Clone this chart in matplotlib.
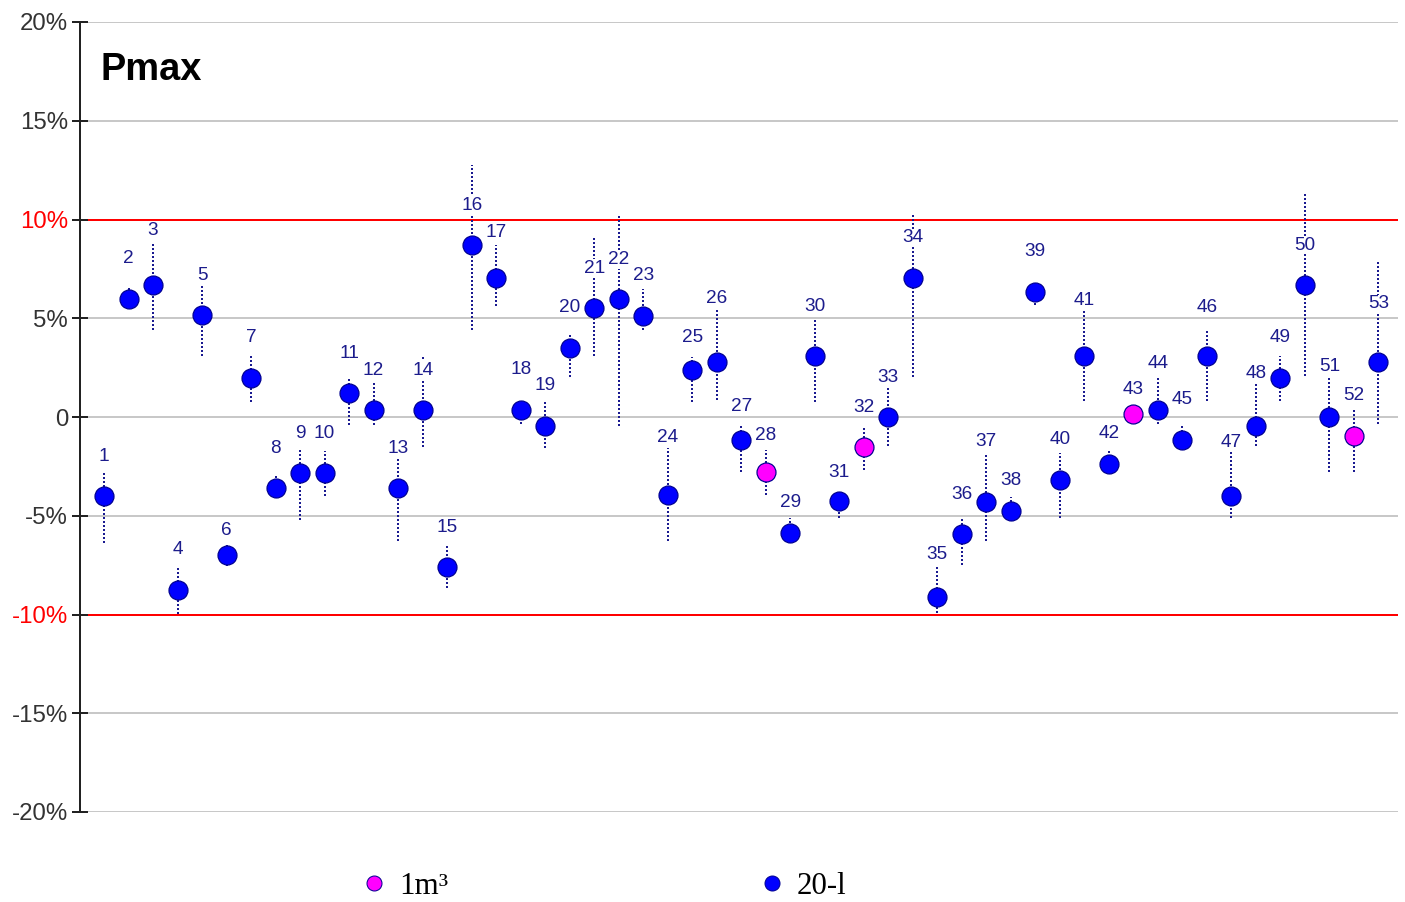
import matplotlib
matplotlib.use("Agg")
import matplotlib.pyplot as plt
from matplotlib.lines import Line2D

# data
nums = list(range(1, 54))
pmax = [-4.0, 6.0, 6.7, -8.75, 5.15, -7.0, 2.0, -3.6, -2.85, -2.85,
        1.2, 0.35, -3.6, 0.35, -7.6, 8.7, 7.05, 0.37, -0.44, 3.5,
        5.5, 5.95, 5.12, -3.97, 2.39, 2.81, -1.14, -2.78, -5.89, 3.1,
        -4.26, -1.53, 0.0, 7.04, -9.1, -5.94, -4.31, -4.74, 6.34, -3.18,
        3.11, -2.39, 0.15, 0.37, -1.15, 3.11, -3.99, -0.44, 1.98, 6.67,
        -0.02, -0.95, 2.79]
err_lo = [-6.4, 5.6, 4.4, -9.95, 3.1, -7.55, 0.77, -4.1, -5.2, -4.0,
          -0.4, -0.4, -6.3, -1.5, -8.65, 4.4, 5.6, -0.35, -1.57, 2.05,
          3.1, -0.44, 4.41, -6.3, 0.76, 0.88, -2.8, -3.97, -6.4, 0.76,
          -5.1, -2.66, -1.48, 2.05, -9.9, -7.5, -6.26, -5.13, 5.65, -5.13,
          0.8, -2.84, -0.3, -0.36, -1.57, 0.8, -5.13, -1.49, 0.8, 2.06,
          -2.81, -2.81, -0.36]
err_hi = [-2.8, 6.65, 8.8, -7.6, 6.7, -6.5, 3.1, -2.9, -1.6, -1.7,
          2.0, 1.8, -2.15, 3.1, -6.5, 12.75, 8.7, 0.8, 0.76, 4.16,
          9.04, 10.17, 6.5, -1.57, 3.06, 5.42, -0.47, -1.68, -5.1, 4.92,
          -3.84, -0.56, 1.46, 10.3, -7.58, -5.13, -1.91, -4.03, 6.8, -1.83,
          5.53, -1.74, 0.71, 1.98, -0.47, 4.35, -1.74, 1.73, 3.08, 11.34,
          1.98, 0.37, 7.9]
big_vessel = [28, 32, 43, 52]   # 1m3 points, the rest are 20-l

yticks = [20, 15, 10, 5, 0, -5, -10, -15, -20]
ytick_labels = ["20%", "15%", "10%", "5%", "0", "-5%", "-10%", "-15%", "-20%"]

# label lift above each point (px), default 40
label_lift = {3: 54, 6: 25, 17: 45, 24: 58, 25: 32, 26: 63, 27: 33, 28: 36,
              29: 31, 30: 49, 31: 29, 35: 42, 37: 61, 38: 30, 41: 55, 42: 31,
              43: 25, 44: 46, 46: 48, 47: 53, 48: 52, 51: 51, 53: 58}

fig = plt.figure(figsize=(1405/72, 902/72), dpi=72)
ax = fig.add_axes([80/1405, 1-812/902, (1398-80)/1405, (812-22)/902])
ax.set_xlim(0.02, 53.8)
ax.set_ylim(-20, 20)

for y in yticks:
    if abs(y) == 10:
        ax.axhline(y, color="#ff0000", lw=2, zorder=1)
    else:
        ax.axhline(y, color="#c8c8c8", lw=2, zorder=1)

ax.vlines(nums, err_lo, err_hi, colors="#1a1a90", lw=2,
          linestyles=(0, (1, 1)), zorder=2)

x_blue = [n for n in nums if n not in big_vessel]
y_blue = [pmax[n-1] for n in x_blue]
x_mag = [n for n in nums if n in big_vessel]
y_mag = [pmax[n-1] for n in x_mag]
ax.plot(x_blue, y_blue, "o", ms=19, mfc="#0000ff", mec="#000090", mew=1.2,
        ls="none", zorder=5)
ax.plot(x_mag, y_mag, "o", ms=19, mfc="#ff00ff", mec="#000090", mew=1.2,
        ls="none", zorder=5)

for n, v in zip(nums, pmax):
    ax.annotate(str(n), (n, v), xytext=(0, label_lift.get(n, 40)),
                textcoords="offset points", ha="center", va="center",
                fontsize=19, color="#1c1c8c", family="Liberation Sans",
                bbox=dict(fc="white", ec="none", pad=0.5), zorder=4)

for s in ["top", "right", "bottom"]:
    ax.spines[s].set_visible(False)
ax.spines["left"].set_color("#222222")
ax.spines["left"].set_linewidth(2)
ax.set_xticks([])
ax.set_yticks(yticks)
ax.set_yticklabels(ytick_labels, fontsize=24, family="Liberation Sans",
                   color="#333333")
for lab in ax.get_yticklabels():
    if lab.get_text() in ("10%", "-10%"):
        lab.set_color("#ff0000")
ax.tick_params(axis="y", direction="inout", length=16, width=2,
               color="#222222", pad=4)

fig.text(101/1405, 1-70/902, "Pmax", fontsize=38, weight="bold",
         family="Liberation Sans", ha="left", va="center")

handles = [Line2D([], [], marker="o", ls="none", ms=15, mfc="#ff00ff",
                  mec="#000090", mew=1),
           Line2D([], [], marker="o", ls="none", ms=15, mfc="#0000ff",
                  mec="#000090", mew=1)]
fig.legend(handles, ["1m\u00b3", "20-l"], ncol=2, frameon=False,
           loc="center left", bbox_to_anchor=(362/1405, 1-886/902),
           borderpad=0, borderaxespad=0, handlelength=0.8,
           handletextpad=0.4, columnspacing=10.05,
           prop=dict(family="Liberation Serif", size=31))

fig.savefig("out.png", dpi=72, facecolor="white")
